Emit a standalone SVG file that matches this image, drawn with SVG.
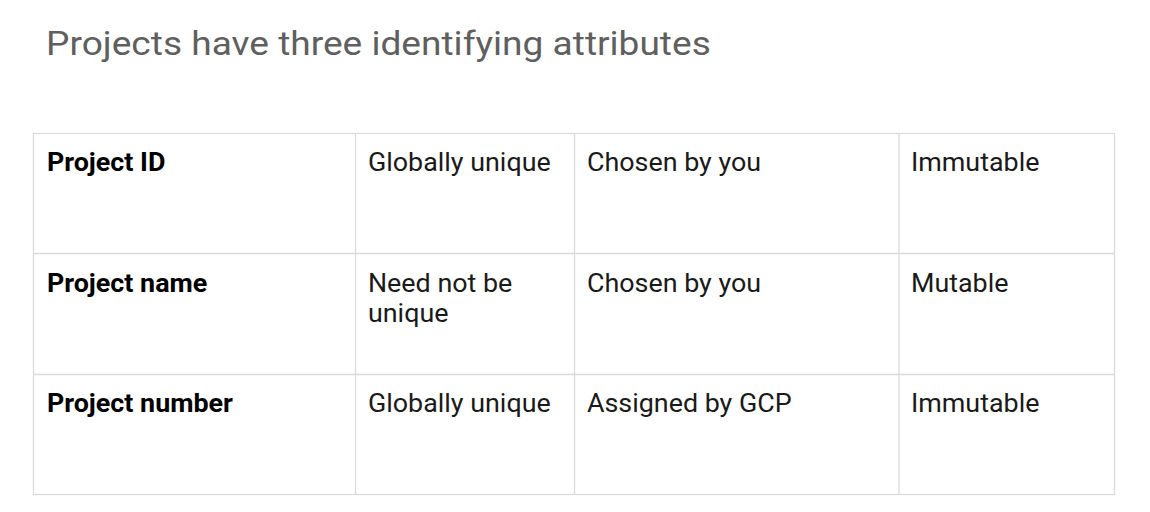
<svg xmlns="http://www.w3.org/2000/svg" width="1150" height="512" viewBox="0 0 1150 512">
<style>
.t{font-family:Roboto,"Liberation Sans",sans-serif;font-size:25px;fill:#1a1a1a}
.b{font-weight:bold;fill:#000}
.title{font-family:Roboto,"Liberation Sans",sans-serif;font-size:33px;fill:#5f5f5f}
.ln{stroke:#dadada;stroke-width:1.3;fill:none}
</style>
<rect width="1150" height="512" fill="#fff"/>
<g id="heading" transform="scale(1.124 1)">
<text class="title" x="41" y="55">Projects have three identifying attributes</text>
</g>
<g id="grid">
<rect class="ln" x="33.5" y="133.5" width="1081" height="361"/>
<line class="ln" x1="355.5" y1="133.5" x2="355.5" y2="494.5"/>
<line class="ln" x1="574.5" y1="133.5" x2="574.5" y2="494.5"/>
<line class="ln" x1="899" y1="133.5" x2="899" y2="494.5"/>
<line class="ln" x1="33.5" y1="253.5" x2="1114.5" y2="253.5"/>
<line class="ln" x1="33.5" y1="374.5" x2="1114.5" y2="374.5"/>
</g>
<g id="row1" transform="scale(1.075 1)">
<text class="t b" x="43.7" y="171">Project ID</text>
<text class="t" x="342.3" y="171">Globally unique</text>
<text class="t" x="546" y="171">Chosen by you</text>
<text class="t" x="847.4" y="171">Immutable</text>
</g>
<g id="row2" transform="scale(1.075 1)">
<text class="t b" x="43.7" y="292">Project name</text>
<text class="t" x="342.3" y="292">Need not be</text>
<text class="t" x="342.3" y="322">unique</text>
<text class="t" x="546" y="292">Chosen by you</text>
<text class="t" x="847.4" y="292">Mutable</text>
</g>
<g id="row3" transform="scale(1.075 1)">
<text class="t b" x="43.7" y="412.5">Project number</text>
<text class="t" x="342.3" y="412.5">Globally unique</text>
<text class="t" x="546" y="412.5">Assigned by GCP</text>
<text class="t" x="847.4" y="412.5">Immutable</text>
</g>
</svg>
